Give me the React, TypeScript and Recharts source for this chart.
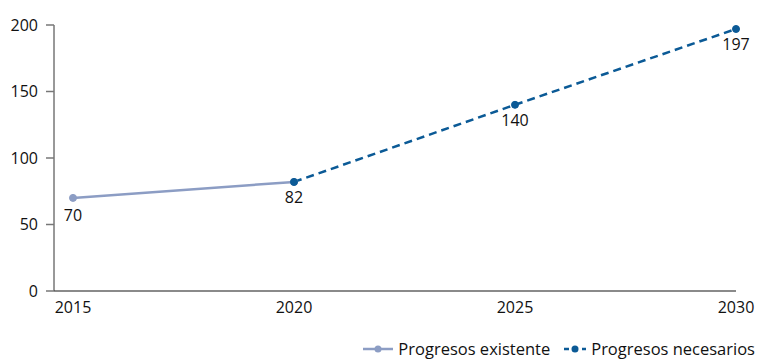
import React from "react";
import {
  LineChart,
  Line,
  XAxis,
  YAxis,
  Legend,
  LabelList,
} from "recharts";

const years = ["2015", "2020", "2025", "2030"];
const existente = [70, 82, null, null];
const necesarios = [null, 82, 140, 197];
const yTicks = [0, 50, 100, 150, 200];

const data = years.map((year, i) => ({
  year,
  existente: existente[i],
  necesarios: necesarios[i],
}));

const FONT = "'Open Sans', sans-serif";
const TEXT = "#111";
const C_EXIST = "#8c9dc4";
const C_NEED = "#0b5a96";

// only label the first point of the grey line, the 2020 value is labelled by the blue one
function ExistLabel(props: any) {
  const { x, y, value, index } = props;
  if (index !== 0 || value == null) return null;
  return (
    <text x={x} y={y + 17} textAnchor="middle" dominantBaseline="central" fill={TEXT} fontSize={16} fontFamily={FONT}>
      {value}
    </text>
  );
}

function NeedLabel(props: any) {
  const { x, y, value } = props;
  if (value == null) return null;
  return (
    <text x={x} y={y + 15} textAnchor="middle" dominantBaseline="central" fill={TEXT} fontSize={16} fontFamily={FONT}>
      {value}
    </text>
  );
}

function LegendBox() {
  return (
    <div
      style={{
        height: 38,
        display: "flex",
        justifyContent: "flex-end",
        alignItems: "flex-end",
        fontFamily: FONT,
        fontSize: 16.5,
        color: TEXT,
        paddingRight: 3,
      }}
    >
      <span style={{ display: "flex", alignItems: "center", marginRight: 14, lineHeight: "20px" }}>
        <svg width={30} height={10} style={{ marginRight: 5 }}>
          <line x1={0} y1={5} x2={30} y2={5} stroke={C_EXIST} strokeWidth={2.5} />
          <circle cx={15} cy={5} r={3.5} fill={C_EXIST} />
        </svg>
        Progresos existente
      </span>
      <span style={{ display: "flex", alignItems: "center", lineHeight: "20px" }}>
        <svg width={22} height={10} style={{ marginRight: 5 }}>
          <line x1={0} y1={5} x2={22} y2={5} stroke={C_NEED} strokeWidth={2.5} strokeDasharray="5 4" />
          <circle cx={11} cy={5} r={3.5} fill={C_NEED} />
        </svg>
        Progresos necesarios
      </span>
    </div>
  );
}

export default function App() {
  return (
    <div style={{ width: 758, height: 359 }}>
      <style>{`body{margin:0}`}</style>
      <LineChart width={758} height={359} data={data} margin={{ top: 25, right: 22, bottom: 0, left: 0 }}>
        <XAxis
          dataKey="year"
          padding={{ left: 19, right: 0 }}
          axisLine={{ stroke: "#8a8a8a", strokeWidth: 2 }}
          tickLine={false}
          tickSize={0}
          tickMargin={11}
          height={30}
          tick={{ fill: TEXT, fontSize: 16, fontFamily: FONT }}
          interval={0}
        />
        <YAxis
          domain={[0, 200]}
          ticks={yTicks}
          width={54}
          axisLine={{ stroke: "#333" }}
          tickLine={{ stroke: "#777", strokeWidth: 1.5 }}
          tickSize={8}
          tickMargin={8}
          tick={{ fill: TEXT, fontSize: 16, fontFamily: FONT }}
        />
        <Legend verticalAlign="bottom" content={<LegendBox />} wrapperStyle={{ left: 0, width: 758 }} />
        <Line
          dataKey="existente"
          stroke={C_EXIST}
          strokeWidth={2.5}
          dot={{ r: 3.5, fill: C_EXIST, stroke: C_EXIST, strokeWidth: 1 }}
          activeDot={false}
          connectNulls={false}
          isAnimationActive={false}
        >
          <LabelList dataKey="existente" content={<ExistLabel />} />
        </Line>
        <Line
          dataKey="necesarios"
          stroke={C_NEED}
          strokeWidth={2.5}
          strokeDasharray="8 5"
          dot={{ r: 3.5, fill: C_NEED, stroke: C_NEED, strokeWidth: 1, strokeDasharray: "0" }}
          activeDot={false}
          isAnimationActive={false}
        >
          <LabelList dataKey="necesarios" content={<NeedLabel />} />
        </Line>
      </LineChart>
    </div>
  );
}
